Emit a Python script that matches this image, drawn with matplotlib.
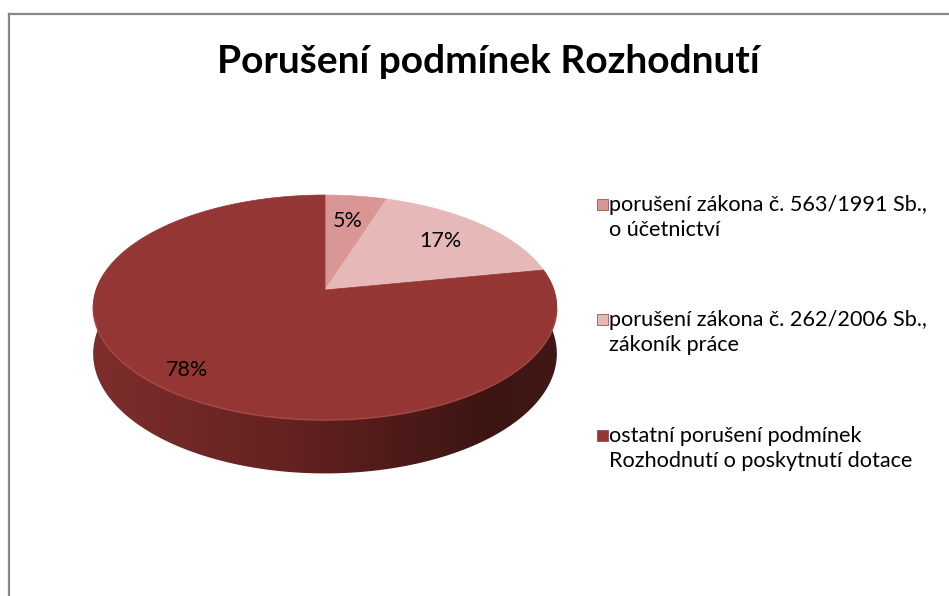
import numpy as np
import matplotlib
matplotlib.use("Agg")
import matplotlib.pyplot as plt
from matplotlib.patches import Polygon, Rectangle
from matplotlib.lines import Line2D
from matplotlib.colors import LinearSegmentedColormap

plt.rcParams['font.family'] = ['Lato', 'DejaVu Sans']

# data
title = "Porušení podmínek Rozhodnutí"
labels = [
    "porušení zákona č. 563/1991 Sb.,\no účetnictví",
    "porušení zákona č. 262/2006 Sb.,\nzákoník práce",
    "ostatní porušení podmínek\nRozhodnutí o poskytnutí dotace",
]
shares = [5, 17, 78]
colors = ["#D99694", "#E6B9B8", "#943634"]
label_radius = [0.70, 0.72, 0.85]

# geometry of the tilted pie (pixels)
cx, cy = 325, 290
rx0, A = 229, 109.8
persp = 0.156
thick = 45


def proj(theta, r=1.0, drop=0.0):
    # theta in degrees, clockwise from 12 o'clock
    th = np.radians(theta)
    X = r * np.sin(th)
    Z = -r * np.cos(th)
    d = 1 - persp * Z
    return cx + rx0 * X / d, cy + (A * Z + drop) / d


W, H = 949, 596
fig = plt.figure(figsize=(W / 100, H / 100), dpi=100)
ax = fig.add_axes([0, 0, 1, 1])
ax.axis("off")

# frame (top and left only visible)
ax.add_line(Line2D([9, W], [14, 14], color="#878787", lw=1.6))
ax.add_line(Line2D([9, 9], [14, H], color="#878787", lw=1.6))

ax.text(488, 73, title, ha="center", va="baseline", fontsize=28,
        fontweight="bold", color="black")

# side wall, one polygon filled with a left->right gradient
ts = np.linspace(84, 276, 300)
xt, yt = proj(ts)
xb, yb = proj(ts[::-1], drop=thick)
side = Polygon(list(zip(xt, yt)) + list(zip(xb, yb)), closed=True,
               facecolor="none", edgecolor="none")
ax.add_patch(side)
side_cmap = LinearSegmentedColormap.from_list(
    "side", [(0, "#7e2e2c"), (0.45, "#622120"), (0.85, "#3c1513"), (1, "#421816")])
grad = np.linspace(0, 1, 256).reshape(1, -1)
im = ax.imshow(grad, cmap=side_cmap, aspect="auto",
               extent=(cx - rx0 - 5, cx + rx0 + 5, yb.max() + 5, yt.min() - 5),
               interpolation="bilinear")
im.set_clip_path(side)

# top faces
start = 0.0
total = float(sum(shares))
for v, col, lr in zip(shares, colors, label_radius):
    a0 = start / total * 360
    a1 = (start + v) / total * 360
    tt = np.linspace(a0, a1, max(int(v * 4), 8))
    xs, ys = proj(tt)
    pts = [proj(0, r=0)] + list(zip(xs, ys))
    ax.add_patch(Polygon(pts, closed=True, facecolor=col, edgecolor=col, lw=0.5))
    mid = (a0 + a1) / 2
    lx, ly = proj(mid, r=lr)
    ax.text(lx, ly, f"{v}%", ha="center", va="center", fontsize=15.5, color="black")
    start += v

# soft light edge on front rim
tt = np.linspace(100, 262, 200)
xs, ys = proj(tt)
ax.plot(xs, ys, color="#ad4e4b", lw=1.2, alpha=0.6)

# legend
leg_x = 597
base_y = [211, 326, 442]
for lab, col, by in zip(labels, colors, base_y):
    ax.add_patch(Rectangle((leg_x, by - 12), 11, 11, facecolor=col,
                           edgecolor="#8a3a38", lw=0.5))
    for i, line in enumerate(lab.split("\n")):
        ax.text(leg_x + 12, by + i * 25, line, ha="left", va="baseline",
                fontsize=15.6, color="black")

ax.set_xlim(0, W)
ax.set_ylim(H, 0)
fig.savefig("out.png", dpi=100)
